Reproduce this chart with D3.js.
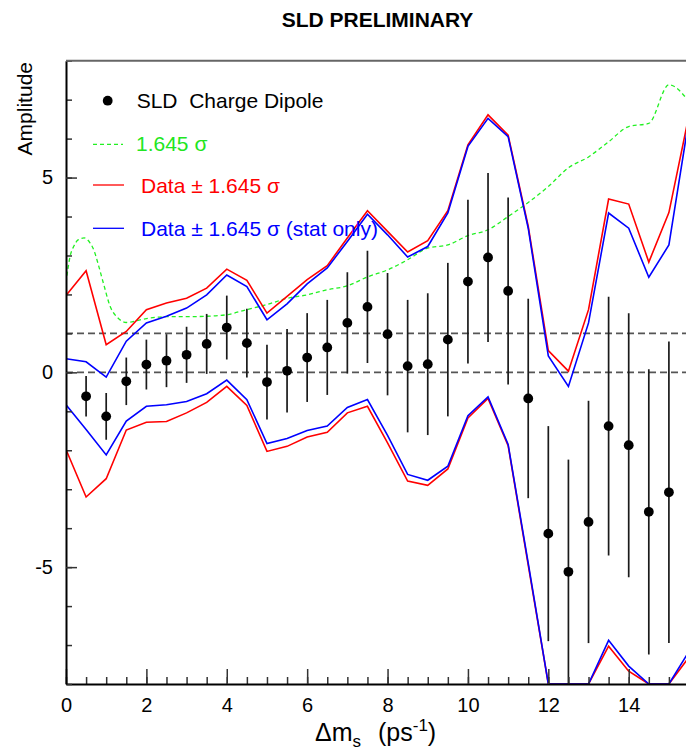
<!DOCTYPE html>
<html>
<head>
<meta charset="utf-8">
<title>SLD Preliminary - Amplitude vs dms</title>
<style>
  body { margin: 0; background: #fff; }
  svg { display: block; font-family: "Liberation Sans", Arial, Helvetica, sans-serif; }
</style>
</head>
<body>
<script src="https://cdn.jsdelivr.net/npm/d3@7/dist/d3.min.js"></script>
<script>
// measured amplitudes (dots) and their stat errors
var dmPoints = [0.5, 1, 1.5, 2, 2.5, 3, 3.5, 4, 4.5, 5, 5.5, 6, 6.5, 7, 7.5,
                8, 8.5, 9, 9.5, 10, 10.5, 11, 11.5, 12, 12.5, 13, 13.5, 14, 14.5, 15];
var amplitude = [-0.615, -1.13, -0.23, 0.20, 0.30, 0.45, 0.73, 1.15, 0.75, -0.25,
                 0.04, 0.38, 0.64, 1.27, 1.68, 0.98, 0.16, 0.21, 0.84, 2.33,
                 2.95, 2.09, -0.67, -4.14, -5.12, -3.84, -1.38, -1.87, -3.58, -3.08];
var ampError = [0.52, 0.60, 0.61, 0.64, 0.68, 0.72, 0.77, 0.82, 0.88, 0.96,
                1.07, 1.14, 1.22, 1.30, 1.44, 1.57, 1.70, 1.82, 1.97, 2.10,
                2.17, 2.40, 2.56, 2.76, 2.88, 3.11, 3.32, 3.39, 3.66, 3.87];

// band lines: data +- 1.645 sigma (total, red) and stat only (blue)
var bandX = [0, 0.5, 1, 1.5, 2, 2.5, 3, 3.5, 4, 4.5, 5, 5.5, 6, 6.5, 7, 7.5,
             8, 8.5, 9, 9.5, 10, 10.5, 11, 11.5, 12, 12.5, 13, 13.5, 14, 14.5, 15, 15.5];
var redUpper = [1.97, 2.61, 0.71, 1.05, 1.61, 1.78, 1.90, 2.16, 2.65, 2.36, 1.52, 1.95,
                2.38, 2.74, 3.45, 4.15, 3.62, 3.09, 3.38, 4.15, 5.84, 6.61, 6.09, 3.75,
                0.56, 0.03, 1.61, 4.45, 4.32, 2.83, 4.10, 6.60];
var redLower = [-1.98, -3.20, -2.73, -1.48, -1.28, -1.26, -1.04, -0.77, -0.36, -0.85, -2.03, -1.90,
                -1.66, -1.54, -1.04, -0.87, -1.81, -2.79, -2.90, -2.48, -1.17, -0.67, -1.88, -4.95,
                -8, -8, -8, -7.03, -7.67, -8, -8, -7.31];
var blueUpper = [0.35, 0.27, -0.12, 0.80, 1.27, 1.44, 1.65, 1.99, 2.50, 2.20, 1.35, 1.76,
                 2.27, 2.68, 3.36, 4.06, 3.53, 2.96, 3.23, 4.09, 5.80, 6.52, 6.05, 3.70,
                 0.42, -0.36, 1.27, 4.09, 3.70, 2.44, 3.27, 6.50];
var blueLower = [-0.83, -1.47, -2.12, -1.25, -0.87, -0.83, -0.75, -0.55, -0.20, -0.70, -1.83, -1.70,
                 -1.49, -1.38, -0.90, -0.70, -1.62, -2.62, -2.77, -2.41, -1.11, -0.63, -1.85, -4.90,
                 -8, -8, -8, -6.88, -7.54, -8, -8, -7.16];

// 1.645 sigma sensitivity curve
var sigmaX = [0, 0.1, 0.2, 0.3, 0.45, 0.6, 0.7, 0.8, 0.93, 1.1, 1.3, 1.5, 2, 2.5, 3, 3.5,
              4, 4.5, 5, 5.5, 6, 6.5, 7, 7.5, 8, 8.5, 9, 9.5, 10, 10.5, 11, 11.5,
              12, 12.5, 13, 13.5, 14, 14.5, 15, 15.5];
var sigmaY = [2.30, 2.97, 3.25, 3.40, 3.45, 3.32, 3.12, 2.78, 2.29, 1.69, 1.39, 1.28, 1.38, 1.43, 1.43, 1.44,
              1.48, 1.61, 1.74, 1.90, 1.99, 2.12, 2.22, 2.45, 2.63, 2.89, 3.19, 3.27, 3.51, 3.66, 4.00, 4.36,
              4.77, 5.25, 5.53, 5.92, 6.31, 6.39, 7.38, 6.95];

var xMajor = [0, 2, 4, 6, 8, 10, 12, 14];
var yMajor = [-5, 0, 5];
var refLines = [0, 1];

var width = 686, height = 752;
var plot = {left: 66, right: 689, top: 60.7, bottom: 684};

var svg = d3.select("body").append("svg")
  .attr("width", width)
  .attr("height", height);

var x = d3.scaleLinear().domain([0, 15.5]).range([plot.left, plot.right]);
var y = d3.scaleLinear().domain([-8, 8]).range([plot.bottom, plot.top]);

svg.append("clipPath").attr("id", "plotclip")
  .append("rect")
  .attr("x", plot.left).attr("y", plot.top)
  .attr("width", plot.right - plot.left).attr("height", plot.bottom - plot.top);

var g = svg.append("g").attr("clip-path", "url(#plotclip)");

// dashed reference lines at 0 and 1
g.selectAll("line.ref")
  .data(refLines)
  .enter().append("line")
  .attr("class", "ref")
  .attr("x1", plot.left).attr("x2", plot.right)
  .attr("y1", function (d) { return y(d); })
  .attr("y2", function (d) { return y(d); })
  .attr("stroke", "#555")
  .attr("stroke-width", 1.8)
  .attr("stroke-dasharray", "7,4");

// sigma curve
var sigmaLine = d3.line()
  .x(function (d, i) { return x(sigmaX[i]); })
  .y(function (d) { return y(d); })
  .curve(d3.curveMonotoneX);

g.append("path")
  .attr("d", sigmaLine(sigmaY))
  .attr("fill", "none")
  .attr("stroke", "#22f022")
  .attr("stroke-width", 1.3)
  .attr("stroke-dasharray", "4,3");

// bands
var bandLine = d3.line()
  .x(function (d, i) { return x(bandX[i]); })
  .y(function (d) { return y(d); });

[[redUpper, "#ff0000"], [redLower, "#ff0000"], [blueUpper, "#0000ff"], [blueLower, "#0000ff"]]
  .forEach(function (b) {
    g.append("path")
      .attr("d", bandLine(b[0]))
      .attr("fill", "none")
      .attr("stroke", b[1])
      .attr("stroke-width", 1.6);
  });

// error bars and dots
g.selectAll("line.err")
  .data(amplitude)
  .enter().append("line")
  .attr("class", "err")
  .attr("x1", function (d, i) { return x(dmPoints[i]); })
  .attr("x2", function (d, i) { return x(dmPoints[i]); })
  .attr("y1", function (d, i) { return y(d + ampError[i]); })
  .attr("y2", function (d, i) { return y(d - ampError[i]); })
  .attr("stroke", "#1a1a1a")
  .attr("stroke-width", 1.7);

g.selectAll("circle.pt")
  .data(amplitude)
  .enter().append("circle")
  .attr("class", "pt")
  .attr("cx", function (d, i) { return x(dmPoints[i]); })
  .attr("cy", function (d) { return y(d); })
  .attr("r", 4.9)
  .attr("fill", "#000");

// axes (plain hyphen for negatives)
var plainFmt = function (d) { return String(d); };

var xMinor = svg.append("g")
  .attr("transform", "translate(0," + plot.bottom + ")")
  .call(d3.axisBottom(x).tickValues(d3.range(0, 15.6, 0.5)).tickSize(-7).tickSizeOuter(0).tickFormat(""));
xMinor.select(".domain").remove();

var xAxis = svg.append("g")
  .attr("transform", "translate(0," + plot.bottom + ")")
  .call(d3.axisBottom(x).tickValues(xMajor).tickSize(-15).tickSizeOuter(0).tickPadding(14).tickFormat(plainFmt));

var yMinor = svg.append("g")
  .attr("transform", "translate(" + plot.left + ",0)")
  .call(d3.axisLeft(y).tickValues(d3.range(-8, 9, 1)).tickSize(-6).tickSizeOuter(0).tickFormat(""));
yMinor.select(".domain").remove();

var yAxis = svg.append("g")
  .attr("transform", "translate(" + plot.left + ",0)")
  .call(d3.axisLeft(y).tickValues(yMajor).tickSize(-11).tickSizeOuter(0).tickPadding(13).tickFormat(plainFmt));

svg.selectAll(".tick line").attr("stroke", "#333").attr("stroke-width", 1.5);
svg.selectAll(".domain").attr("stroke", "#000").attr("stroke-width", 2);
svg.selectAll(".tick text")
  .attr("font-family", "Liberation Sans, Arial, sans-serif")
  .attr("font-size", 20)
  .attr("fill", "#000");

// top frame
svg.append("line")
  .attr("x1", plot.left).attr("x2", plot.right)
  .attr("y1", plot.top).attr("y2", plot.top)
  .attr("stroke", "#666").attr("stroke-width", 2);

// title
svg.append("text")
  .attr("x", (plot.left + plot.right) / 2)
  .attr("y", 26.7)
  .attr("text-anchor", "middle")
  .attr("font-size", 21)
  .attr("font-weight", "bold")
  .text("SLD PRELIMINARY");

// y label
svg.append("text")
  .attr("transform", "translate(32,62) rotate(-90)")
  .attr("text-anchor", "end")
  .attr("font-size", 21)
  .text("Amplitude");

// x label
var xt = svg.append("text")
  .attr("x", 315)
  .attr("y", 741)
  .attr("font-size", 25);
xt.append("tspan").text("\u0394m");
xt.append("tspan").attr("font-size", 17).attr("dy", 6).text("s");
xt.append("tspan").attr("x", 378).attr("dy", -6).text("(ps");
xt.append("tspan").attr("font-size", 17).attr("dy", -10).text("-1");
xt.append("tspan").attr("dy", 10).text(")");

// legend
var legend = svg.append("g");
legend.append("circle").attr("cx", 107.7).attr("cy", 100.7).attr("r", 4.9).attr("fill", "#000");
legend.append("text").attr("x", 136.7).attr("y", 108).attr("font-size", 21)
  .style("white-space", "pre").text("SLD  Charge Dipole");

legend.append("line").attr("x1", 93).attr("x2", 123).attr("y1", 144.3).attr("y2", 144.3)
  .attr("stroke", "#22f022").attr("stroke-width", 1.3).attr("stroke-dasharray", "4,3");
legend.append("text").attr("x", 136).attr("y", 151).attr("font-size", 21)
  .attr("fill", "#22e622").text("1.645 \u03c3");

legend.append("line").attr("x1", 93).attr("x2", 124).attr("y1", 185).attr("y2", 185)
  .attr("stroke", "#ff0000").attr("stroke-width", 1.3);
legend.append("text").attr("x", 141).attr("y", 193).attr("font-size", 21)
  .attr("fill", "#ff0000").text("Data \u00b1 1.645 \u03c3");

legend.append("line").attr("x1", 93).attr("x2", 124).attr("y1", 228.3).attr("y2", 228.3)
  .attr("stroke", "#0000ff").attr("stroke-width", 1.3);
legend.append("text").attr("x", 141).attr("y", 236).attr("font-size", 21)
  .attr("fill", "#0000ff").text("Data \u00b1 1.645 \u03c3 (stat only)");
</script>
</body>
</html>
